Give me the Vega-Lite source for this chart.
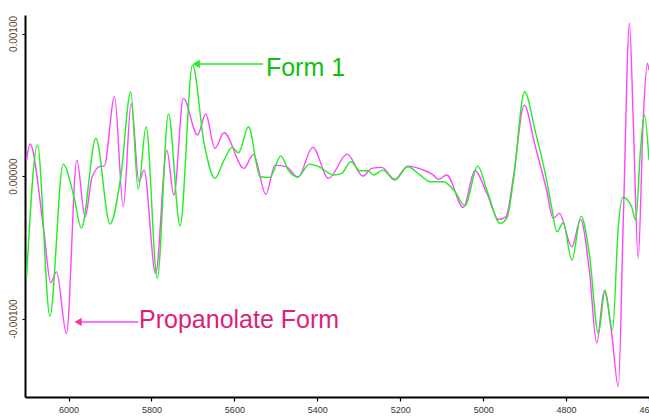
{
  "$schema": "https://vega.github.io/schema/vega-lite/v6.json",
  "width": 624,
  "height": 382,
  "autosize": {"type": "none"},
  "padding": {"left": 25, "top": 15, "right": 0, "bottom": 21},
  "background": "white",
  "config": {"view": {"stroke": null}, "font": "Liberation Sans"},
  "datasets": {
    "spectra": [
      {"wavenumber": 6101, "value": 0.000112, "series": "Propanolate Form"},
      {"wavenumber": 6093, "value": 0.000225, "series": "Propanolate Form"},
      {"wavenumber": 6059, "value": -0.000400, "series": "Propanolate Form"},
      {"wavenumber": 6043, "value": -0.000749, "series": "Propanolate Form"},
      {"wavenumber": 6029, "value": -0.000672, "series": "Propanolate Form"},
      {"wavenumber": 6005, "value": -0.001104, "series": "Propanolate Form"},
      {"wavenumber": 5980, "value": 0.000112, "series": "Propanolate Form"},
      {"wavenumber": 5960, "value": -0.000286, "series": "Propanolate Form"},
      {"wavenumber": 5943, "value": -0.000005, "series": "Propanolate Form"},
      {"wavenumber": 5922, "value": 0.000070, "series": "Propanolate Form"},
      {"wavenumber": 5914, "value": 0.000070, "series": "Propanolate Form"},
      {"wavenumber": 5889, "value": 0.000557, "series": "Propanolate Form"},
      {"wavenumber": 5868, "value": -0.000215, "series": "Propanolate Form"},
      {"wavenumber": 5849, "value": 0.000510, "series": "Propanolate Form"},
      {"wavenumber": 5830, "value": -0.000040, "series": "Propanolate Form"},
      {"wavenumber": 5818, "value": 0.000042, "series": "Propanolate Form"},
      {"wavenumber": 5790, "value": -0.000683, "series": "Propanolate Form"},
      {"wavenumber": 5763, "value": 0.000182, "series": "Propanolate Form"},
      {"wavenumber": 5746, "value": -0.000133, "series": "Propanolate Form"},
      {"wavenumber": 5723, "value": 0.000545, "series": "Propanolate Form"},
      {"wavenumber": 5689, "value": 0.000288, "series": "Propanolate Form"},
      {"wavenumber": 5669, "value": 0.000435, "series": "Propanolate Form"},
      {"wavenumber": 5647, "value": 0.000194, "series": "Propanolate Form"},
      {"wavenumber": 5625, "value": 0.000304, "series": "Propanolate Form"},
      {"wavenumber": 5577, "value": 0.000054, "series": "Propanolate Form"},
      {"wavenumber": 5554, "value": 0.000152, "series": "Propanolate Form"},
      {"wavenumber": 5524, "value": -0.000128, "series": "Propanolate Form"},
      {"wavenumber": 5502, "value": 0.000077, "series": "Propanolate Form"},
      {"wavenumber": 5474, "value": 0.000065, "series": "Propanolate Form"},
      {"wavenumber": 5447, "value": -0.000009, "series": "Propanolate Form"},
      {"wavenumber": 5411, "value": 0.000201, "series": "Propanolate Form"},
      {"wavenumber": 5373, "value": -0.000016, "series": "Propanolate Form"},
      {"wavenumber": 5328, "value": 0.000154, "series": "Propanolate Form"},
      {"wavenumber": 5290, "value": 0.000000, "series": "Propanolate Form"},
      {"wavenumber": 5269, "value": 0.000054, "series": "Propanolate Form"},
      {"wavenumber": 5245, "value": 0.000061, "series": "Propanolate Form"},
      {"wavenumber": 5213, "value": -0.000023, "series": "Propanolate Form"},
      {"wavenumber": 5182, "value": 0.000070, "series": "Propanolate Form"},
      {"wavenumber": 5144, "value": 0.000042, "series": "Propanolate Form"},
      {"wavenumber": 5120, "value": 0.000007, "series": "Propanolate Form"},
      {"wavenumber": 5108, "value": -0.000023, "series": "Propanolate Form"},
      {"wavenumber": 5088, "value": 0.000007, "series": "Propanolate Form"},
      {"wavenumber": 5048, "value": -0.000220, "series": "Propanolate Form"},
      {"wavenumber": 5020, "value": 0.000037, "series": "Propanolate Form"},
      {"wavenumber": 4991, "value": -0.000121, "series": "Propanolate Form"},
      {"wavenumber": 4963, "value": -0.000304, "series": "Propanolate Form"},
      {"wavenumber": 4945, "value": -0.000286, "series": "Propanolate Form"},
      {"wavenumber": 4927, "value": -0.000005, "series": "Propanolate Form"},
      {"wavenumber": 4901, "value": 0.000498, "series": "Propanolate Form"},
      {"wavenumber": 4875, "value": 0.000218, "series": "Propanolate Form"},
      {"wavenumber": 4847, "value": -0.000098, "series": "Propanolate Form"},
      {"wavenumber": 4831, "value": -0.000297, "series": "Propanolate Form"},
      {"wavenumber": 4816, "value": -0.000262, "series": "Propanolate Form"},
      {"wavenumber": 4786, "value": -0.000496, "series": "Propanolate Form"},
      {"wavenumber": 4765, "value": -0.000304, "series": "Propanolate Form"},
      {"wavenumber": 4744, "value": -0.000660, "series": "Propanolate Form"},
      {"wavenumber": 4726, "value": -0.001170, "series": "Propanolate Form"},
      {"wavenumber": 4708, "value": -0.000805, "series": "Propanolate Form"},
      {"wavenumber": 4690, "value": -0.001104, "series": "Propanolate Form"},
      {"wavenumber": 4674, "value": -0.001479, "series": "Propanolate Form"},
      {"wavenumber": 4662, "value": -0.000309, "series": "Propanolate Form"},
      {"wavenumber": 4647, "value": 0.001072, "series": "Propanolate Form"},
      {"wavenumber": 4638, "value": 0.000393, "series": "Propanolate Form"},
      {"wavenumber": 4626, "value": -0.000578, "series": "Propanolate Form"},
      {"wavenumber": 4614, "value": 0.000393, "series": "Propanolate Form"},
      {"wavenumber": 4604, "value": 0.000791, "series": "Propanolate Form"},
      {"wavenumber": 4600, "value": 0.000744, "series": "Propanolate Form"},
      {"wavenumber": 6101, "value": -0.000707, "series": "Form 1"},
      {"wavenumber": 6075, "value": 0.000218, "series": "Form 1"},
      {"wavenumber": 6045, "value": -0.000983, "series": "Form 1"},
      {"wavenumber": 6013, "value": 0.000084, "series": "Form 1"},
      {"wavenumber": 5987, "value": -0.000145, "series": "Form 1"},
      {"wavenumber": 5969, "value": -0.000365, "series": "Form 1"},
      {"wavenumber": 5934, "value": 0.000265, "series": "Form 1"},
      {"wavenumber": 5900, "value": -0.000337, "series": "Form 1"},
      {"wavenumber": 5874, "value": -0.000005, "series": "Form 1"},
      {"wavenumber": 5850, "value": 0.000592, "series": "Form 1"},
      {"wavenumber": 5832, "value": -0.000093, "series": "Form 1"},
      {"wavenumber": 5813, "value": 0.000346, "series": "Form 1"},
      {"wavenumber": 5786, "value": -0.000718, "series": "Form 1"},
      {"wavenumber": 5759, "value": 0.000435, "series": "Form 1"},
      {"wavenumber": 5731, "value": -0.000351, "series": "Form 1"},
      {"wavenumber": 5701, "value": 0.000779, "series": "Form 1"},
      {"wavenumber": 5673, "value": 0.000229, "series": "Form 1"},
      {"wavenumber": 5647, "value": -0.000016, "series": "Form 1"},
      {"wavenumber": 5625, "value": 0.000112, "series": "Form 1"},
      {"wavenumber": 5606, "value": 0.000201, "series": "Form 1"},
      {"wavenumber": 5590, "value": 0.000164, "series": "Form 1"},
      {"wavenumber": 5566, "value": 0.000346, "series": "Form 1"},
      {"wavenumber": 5538, "value": -0.000005, "series": "Form 1"},
      {"wavenumber": 5514, "value": -0.000009, "series": "Form 1"},
      {"wavenumber": 5488, "value": 0.000142, "series": "Form 1"},
      {"wavenumber": 5470, "value": 0.000042, "series": "Form 1"},
      {"wavenumber": 5447, "value": -0.000005, "series": "Form 1"},
      {"wavenumber": 5419, "value": 0.000084, "series": "Form 1"},
      {"wavenumber": 5393, "value": 0.000061, "series": "Form 1"},
      {"wavenumber": 5361, "value": 0.000007, "series": "Form 1"},
      {"wavenumber": 5341, "value": 0.000019, "series": "Form 1"},
      {"wavenumber": 5319, "value": 0.000100, "series": "Form 1"},
      {"wavenumber": 5297, "value": 0.000037, "series": "Form 1"},
      {"wavenumber": 5277, "value": 0.000037, "series": "Form 1"},
      {"wavenumber": 5265, "value": 0.000007, "series": "Form 1"},
      {"wavenumber": 5242, "value": 0.000042, "series": "Form 1"},
      {"wavenumber": 5213, "value": -0.000028, "series": "Form 1"},
      {"wavenumber": 5182, "value": 0.000065, "series": "Form 1"},
      {"wavenumber": 5152, "value": 0.000007, "series": "Form 1"},
      {"wavenumber": 5128, "value": -0.000040, "series": "Form 1"},
      {"wavenumber": 5096, "value": -0.000040, "series": "Form 1"},
      {"wavenumber": 5068, "value": -0.000110, "series": "Form 1"},
      {"wavenumber": 5044, "value": -0.000208, "series": "Form 1"},
      {"wavenumber": 5013, "value": 0.000070, "series": "Form 1"},
      {"wavenumber": 4991, "value": -0.000098, "series": "Form 1"},
      {"wavenumber": 4959, "value": -0.000332, "series": "Form 1"},
      {"wavenumber": 4942, "value": -0.000290, "series": "Form 1"},
      {"wavenumber": 4927, "value": -0.000028, "series": "Form 1"},
      {"wavenumber": 4900, "value": 0.000592, "series": "Form 1"},
      {"wavenumber": 4875, "value": 0.000323, "series": "Form 1"},
      {"wavenumber": 4847, "value": -0.000028, "series": "Form 1"},
      {"wavenumber": 4835, "value": -0.000215, "series": "Form 1"},
      {"wavenumber": 4822, "value": -0.000391, "series": "Form 1"},
      {"wavenumber": 4807, "value": -0.000328, "series": "Form 1"},
      {"wavenumber": 4786, "value": -0.000590, "series": "Form 1"},
      {"wavenumber": 4764, "value": -0.000281, "series": "Form 1"},
      {"wavenumber": 4744, "value": -0.000542, "series": "Form 1"},
      {"wavenumber": 4722, "value": -0.001104, "series": "Form 1"},
      {"wavenumber": 4706, "value": -0.000800, "series": "Form 1"},
      {"wavenumber": 4688, "value": -0.001081, "series": "Form 1"},
      {"wavenumber": 4674, "value": -0.000356, "series": "Form 1"},
      {"wavenumber": 4663, "value": -0.000149, "series": "Form 1"},
      {"wavenumber": 4642, "value": -0.000215, "series": "Form 1"},
      {"wavenumber": 4632, "value": -0.000309, "series": "Form 1"},
      {"wavenumber": 4620, "value": 0.000206, "series": "Form 1"},
      {"wavenumber": 4611, "value": 0.000428, "series": "Form 1"},
      {"wavenumber": 4600, "value": 0.000112, "series": "Form 1"}
    ],
    "labels": [
      {"label": "Form 1", "x": 5524, "y": 0.000702, "ax1": 5692, "ax2": 5531, "ay": 0.000786},
      {"label": "Propanolate Form", "x": 5830, "y": -0.001067, "ax1": 5977, "ax2": 5832, "ay": -0.001023}
    ]
  },
  "layer": [
    {
      "data": {"name": "spectra"},
      "mark": {"type": "line", "strokeWidth": 1.4, "interpolate": "monotone", "clip": true},
      "encoding": {
        "x": {
          "field": "wavenumber", "type": "quantitative",
          "scale": {"domain": [4600, 6105], "reverse": true, "nice": false, "zero": false},
          "axis": {
            "values": [6000, 5800, 5600, 5400, 5200, 5000, 4800, 4600],
            "title": null, "grid": false, "format": "d",
            "domainColor": "#000000", "domainWidth": 2,
            "tickColor": "#000000", "tickSize": 4, "tickWidth": 1.2,
            "labelColor": "#333333", "labelFontSize": 9, "labelPadding": 4,
            "labelFont": "Liberation Sans", "labelOverlap": false, "labelFlush": false
          }
        },
        "y": {
          "field": "value", "type": "quantitative",
          "scale": {"domain": [-0.00155, 0.00113], "nice": false, "zero": false},
          "axis": {
            "values": [-0.001, 0, 0.001],
            "title": null, "grid": false,
            "labelExpr": "datum.value < 0 ? '-' + format(-datum.value, '.5f') : format(datum.value, '.5f')",
            "domainColor": "#000000", "domainWidth": 2,
            "tickColor": "#000000", "tickSize": 3,
            "labelColor": "#5a4630", "labelFontSize": 10, "labelAngle": -90,
            "labelAlign": "center", "labelBaseline": "bottom", "labelPadding": 4,
            "labelFont": "Liberation Sans"
          }
        },
        "color": {
          "field": "series", "type": "nominal",
          "scale": {"domain": ["Propanolate Form", "Form 1"], "range": ["#ff44ff", "#22ee22"]},
          "legend": null
        },
        "order": {"field": "wavenumber", "sort": "descending"}
      }
    },
    {
      "data": {"name": "labels"},
      "mark": {"type": "rule", "strokeWidth": 1.5},
      "encoding": {
        "x": {"field": "ax1", "type": "quantitative"},
        "x2": {"field": "ax2"},
        "y": {"field": "ay", "type": "quantitative"},
        "color": {"field": "label", "type": "nominal", "scale": {"domain": ["Propanolate Form", "Form 1"], "range": ["#ff44ff", "#22ee22"]}, "legend": null}
      }
    },
    {
      "data": {"name": "labels"},
      "mark": {"type": "point", "shape": "triangle-left", "filled": true, "size": 70, "opacity": 1},
      "encoding": {
        "x": {"field": "ax1", "type": "quantitative"},
        "y": {"field": "ay", "type": "quantitative"},
        "color": {"field": "label", "type": "nominal", "scale": {"domain": ["Propanolate Form", "Form 1"], "range": ["#ff3399", "#22ee22"]}, "legend": null}
      }
    },
    {
      "data": {"name": "labels"},
      "mark": {"type": "text", "align": "left", "baseline": "alphabetic", "fontSize": 25, "font": "Liberation Sans", "stroke": null},
      "encoding": {
        "x": {"field": "x", "type": "quantitative"},
        "y": {"field": "y", "type": "quantitative"},
        "text": {"field": "label"},
        "color": {"field": "label", "type": "nominal", "scale": {"domain": ["Propanolate Form", "Form 1"], "range": ["#dd1f78", "#10c010"]}, "legend": null}
      }
    }
  ],
  "resolve": {"scale": {"color": "independent"}}
}
